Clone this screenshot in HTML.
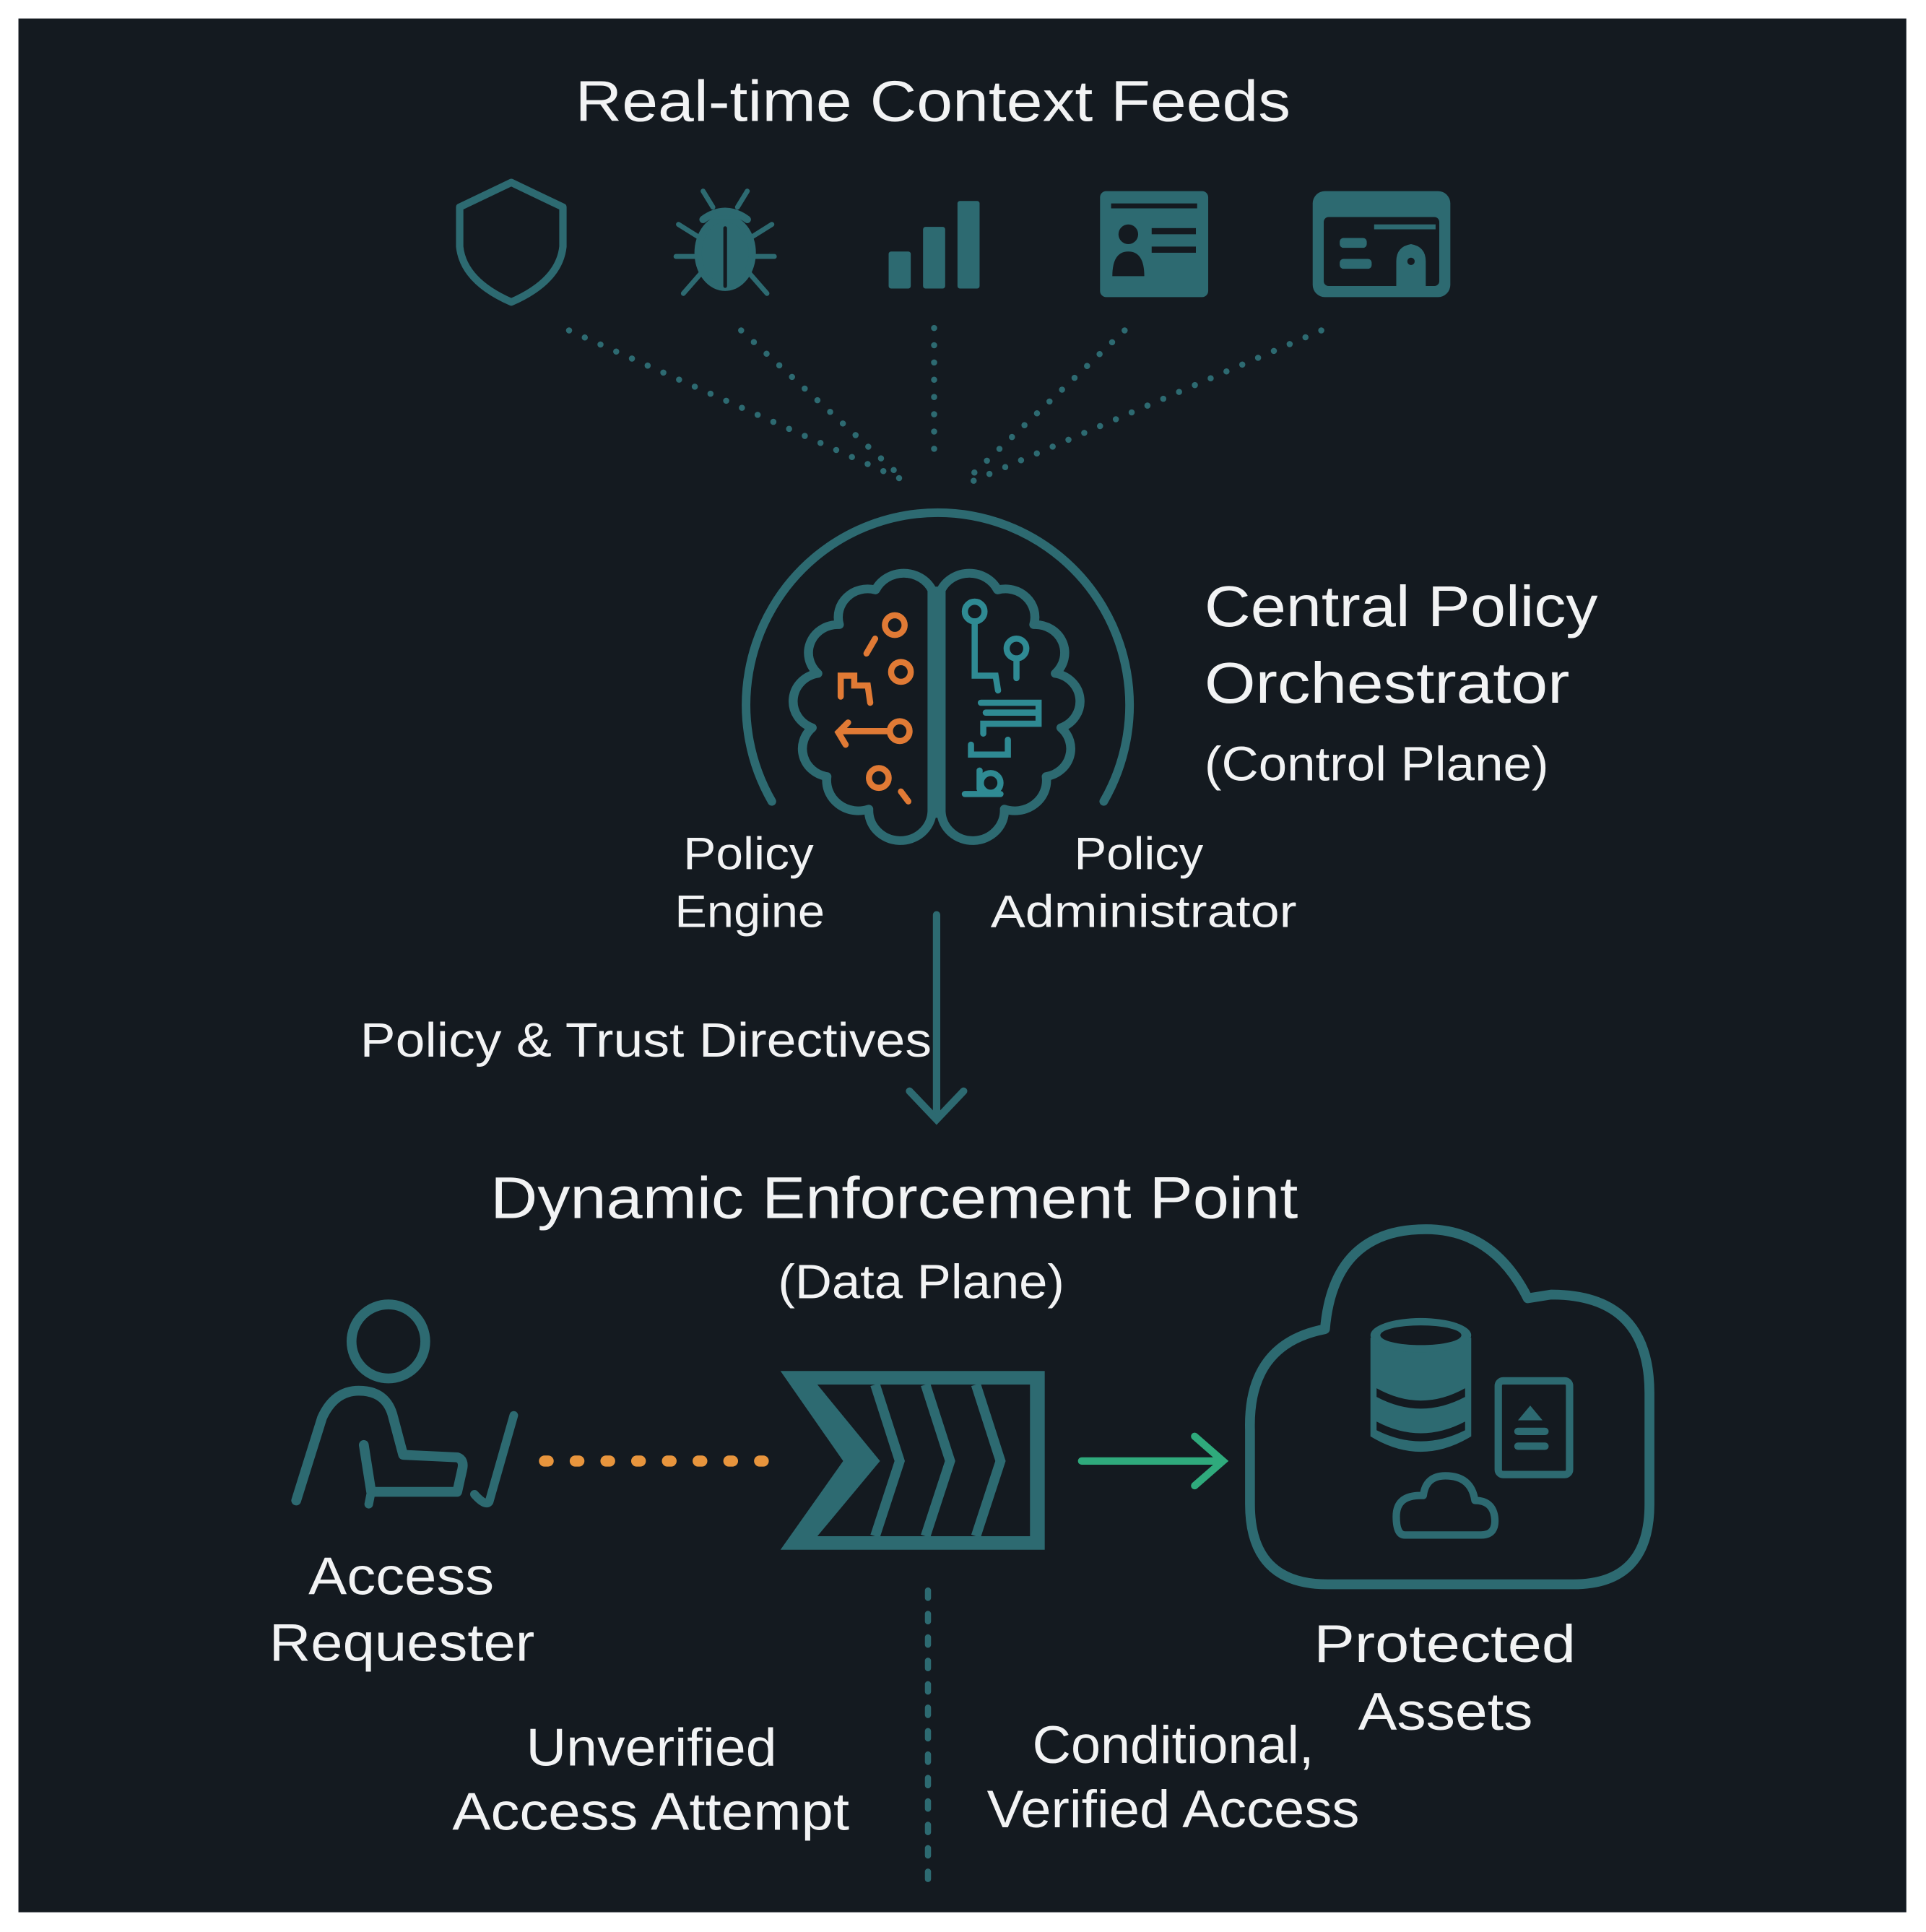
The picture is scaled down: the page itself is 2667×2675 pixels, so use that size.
<!DOCTYPE html>
<html><head><meta charset="utf-8"><style>
html,body{margin:0;padding:0;background:#fff;}
svg{display:block;}
text{font-family:"Liberation Sans",sans-serif;fill:#f2f3f4;}
</style></head><body>
<svg width="2667" height="2675" viewBox="0 0 1567 1567" preserveAspectRatio="none" xmlns="http://www.w3.org/2000/svg">
<rect x="0" y="0" width="1567" height="1567" fill="#ffffff"/>
<rect x="15" y="15" width="1536" height="1536" fill="#141a20"/>

<text x="468" y="98" font-size="47" textLength="582" lengthAdjust="spacingAndGlyphs">Real-time Context Feeds</text>

<g fill="none" stroke="#2d6a71" stroke-width="6" stroke-linecap="round" stroke-linejoin="round">
  <path d="M416,148 L458,168 L458,200 Q455,228 416,245 Q377,228 374,200 L374,168 Z"/>
  <ellipse cx="590" cy="205" rx="22" ry="28" fill="#2d6a71"/>
  <path d="M572,178 Q590,165 608,178" fill="#2d6a71"/>
  <path d="M580,168 L572,155 M600,168 L608,155 M568,192 L552,182 M612,192 L628,182 M566,208 L550,208 M614,208 L630,208 M570,222 L556,238 M610,222 L624,238" stroke-width="4"/>
  <line x1="590" y1="185" x2="590" y2="232" stroke="#141a20" stroke-width="3"/>
  <path d="M628,650 A156,156 0 1 1 898,650" stroke-width="7"/>
  <circle cx="316" cy="1088" r="30" stroke-width="8"/>
  <path d="M241,1217 L262,1150 Q272,1128 292,1128 Q315,1128 320,1150 L328,1180 L372,1182 Q378,1184 376,1192 L372,1210 L302,1210 L296,1172" stroke-width="8"/>
  <path d="M302,1210 L300,1220 M418,1148 L398,1218 Q395,1222 386,1212" stroke-width="7"/>
  <path d="M1080,1285 L1280,1285 Q1342,1285 1342,1220 L1342,1130 Q1342,1050 1262,1050 L1243,1053 Q1215,997 1160,997 Q1085,997 1078,1078 Q1015,1090 1017,1160 L1017,1220 Q1017,1285 1080,1285 Z" stroke-width="8"/>
  <rect x="1219" y="1120" width="58" height="76" rx="4" stroke-width="6"/>
  <path d="M1143,1245 L1205,1245 Q1218,1245 1216,1230 Q1214,1217 1200,1217 Q1197,1197 1176,1197 Q1160,1197 1158,1213 Q1136,1212 1136,1230 Q1136,1245 1143,1245 Z" stroke-width="6"/>
</g>
<g fill="#2d6a71">
  <rect x="723" y="204" width="18" height="30" rx="2"/>
  <rect x="751" y="184" width="18" height="50" rx="2"/>
  <rect x="779" y="163" width="18" height="71" rx="2"/>
  <rect x="895" y="155" width="88" height="86" rx="5"/>
  <rect x="1068" y="155" width="112" height="86" rx="10"/>
</g>
<g fill="#141a20">
  <rect x="904" y="165" width="70" height="4"/>
  <rect x="937" y="185" width="36" height="5"/>
  <rect x="937" y="200" width="36" height="5"/>
  <circle cx="918" cy="190" r="8"/>
  <path d="M905,224 Q905,204 918,204 Q931,204 931,224 Z"/>
  <rect x="1077" y="176" width="94" height="56" rx="4"/>
</g>
<g fill="#2d6a71">
  <rect x="1090" y="193" width="22" height="8" rx="3"/>
  <rect x="1090" y="210" width="26" height="8" rx="3"/>
  <path d="M1136,232 L1136,212 Q1136,200 1148,198 Q1160,200 1160,212 L1160,232 Z"/>
  <rect x="1118" y="182" width="50" height="4"/>
</g>
<circle cx="1148" cy="212" r="3" fill="#141a20"/>

<g fill="none" stroke="#2d6a71" stroke-width="5" stroke-linecap="round" stroke-dasharray="0 14">
  <line x1="463" y1="268" x2="732" y2="388"/>
  <line x1="603" y1="268" x2="728" y2="382"/>
  <line x1="760" y1="266" x2="760" y2="372"/>
  <line x1="915" y1="268" x2="792" y2="384"/>
  <line x1="1075" y1="268" x2="792" y2="390"/>
</g>

<g transform="translate(762,570) scale(0.92,0.88) translate(-762,-572)">
<g fill="none" stroke="#2d6a71" stroke-width="8" stroke-linejoin="round">
  <path d="M758,468 A28,28 0 0 0 708,468 A26,26 0 0 0 676,500 A26,26 0 0 0 657,545 A26,26 0 0 0 652,595 A26,26 0 0 0 665,640 A28,28 0 0 0 702,670 A28,28 0 0 0 758,672 Z"/>
  <path d="M766,468 A28,28 0 0 1 816,468 A26,26 0 0 1 848,500 A26,26 0 0 1 867,545 A26,26 0 0 1 872,595 A26,26 0 0 1 859,640 A28,28 0 0 1 822,670 A28,28 0 0 1 766,672 Z"/>
</g>
<line x1="762" y1="465" x2="762" y2="678" stroke="#2d6a71" stroke-width="8"/>
</g>
<g fill="none" stroke="#e07a35" stroke-width="5" stroke-linecap="round">
  <circle cx="728" cy="507" r="8"/>
  <circle cx="733" cy="545" r="8"/>
  <circle cx="732" cy="593" r="8"/>
  <circle cx="715" cy="631" r="8"/>
  <path d="M712,518 L705,530"/>
  <path d="M724,593 L686,593 M690,586 L682,594 L688,604"/>
  <path d="M684,565 L684,548 L695,548 L695,556 L706,556 L708,570"/>
  <path d="M733,642 L739,650"/>
</g>
<g fill="none" stroke="#2f8a93" stroke-width="5" stroke-linecap="round">
  <circle cx="793" cy="496" r="8"/>
  <circle cx="827" cy="526" r="8"/>
  <path d="M793,504 L793,548 L810,548 L812,560 M827,534 L827,550"/>
  <path d="M798,570 L845,570 L845,587 L800,587 L800,595 M802,578 L843,578"/>
  <path d="M820,600 L820,612 L790,612 L790,604"/>
  <circle cx="806" cy="635" r="8"/>
  <path d="M785,644 L814,644 M797,625 L797,640"/>
</g>

<text x="980" y="508" font-size="47" textLength="320" lengthAdjust="spacingAndGlyphs">Central Policy</text>
<text x="980" y="570" font-size="47" textLength="297" lengthAdjust="spacingAndGlyphs">Orchestrator</text>
<text x="980" y="633" font-size="39" textLength="280" lengthAdjust="spacingAndGlyphs">(Control Plane)</text>
<text x="556" y="705" font-size="37" textLength="106" lengthAdjust="spacingAndGlyphs">Policy</text>
<text x="549" y="752" font-size="37" textLength="122" lengthAdjust="spacingAndGlyphs">Engine</text>
<text x="874" y="705" font-size="37" textLength="105" lengthAdjust="spacingAndGlyphs">Policy</text>
<text x="806" y="752" font-size="37" textLength="249" lengthAdjust="spacingAndGlyphs">Administrator</text>

<g fill="none" stroke="#2d6a71" stroke-width="6" stroke-linecap="round">
  <line x1="762" y1="742" x2="762" y2="906"/>
  <path d="M740,885 L762,908 L784,885"/>
</g>
<text x="293" y="857" font-size="39" textLength="465" lengthAdjust="spacingAndGlyphs">Policy &amp; Trust Directives</text>

<text x="399" y="988" font-size="48" textLength="657" lengthAdjust="spacingAndGlyphs">Dynamic Enforcement Point</text>
<text x="633" y="1053" font-size="39" textLength="233" lengthAdjust="spacingAndGlyphs">(Data Plane)</text>

<line x1="443" y1="1185" x2="622" y2="1185" stroke="#e8953d" stroke-width="9" stroke-linecap="round" stroke-dasharray="3 22"/>

<path d="M635,1112 L850,1112 L850,1257 L635,1257 L686,1185 Z" fill="#2d6a71"/>
<path d="M665,1123 L838,1123 L838,1246 L665,1246 L716,1185 Z" fill="#141a20"/>
<g fill="none" stroke="#2d6a71" stroke-width="8">
  <path d="M712,1123 L732,1185 L712,1246"/>
  <path d="M753,1123 L773,1185 L753,1246"/>
  <path d="M794,1123 L814,1185 L794,1246"/>
</g>

<g fill="none" stroke="#2faa7c" stroke-width="6" stroke-linecap="round">
  <line x1="880" y1="1185" x2="993" y2="1185"/>
  <path d="M972,1165 L995,1185 L972,1205"/>
</g>

<g>
  <path d="M1115,1085 L1115,1165 Q1156,1190 1197,1165 L1197,1085 Z" fill="#2d6a71"/>
  <ellipse cx="1156" cy="1083" rx="41" ry="14" fill="#2d6a71"/>
  <ellipse cx="1156" cy="1083" rx="33" ry="8" fill="#141a20"/>
  <path d="M1120,1126 Q1156,1146 1192,1126 L1192,1133 Q1156,1152 1120,1133 Z" fill="#141a20"/>
  <path d="M1120,1153 Q1156,1172 1192,1153 L1192,1160 Q1156,1178 1120,1160 Z" fill="#141a20"/>
</g>
<g fill="#2d6a71">
  <path d="M1235,1152 L1245,1140 L1255,1152 Z"/>
  <rect x="1232" y="1158" width="28" height="6" rx="3"/>
  <rect x="1232" y="1170" width="28" height="6" rx="3"/>
</g>

<line x1="755" y1="1290" x2="755" y2="1525" stroke="#2d6a71" stroke-width="5" stroke-linecap="round" stroke-dasharray="6 13"/>

<text x="251" y="1293" font-size="43" textLength="151" lengthAdjust="spacingAndGlyphs">Access</text>
<text x="219" y="1347" font-size="43" textLength="216" lengthAdjust="spacingAndGlyphs">Requester</text>
<text x="1069" y="1348" font-size="43" textLength="213" lengthAdjust="spacingAndGlyphs">Protected</text>
<text x="1105" y="1403" font-size="43" textLength="142" lengthAdjust="spacingAndGlyphs">Assets</text>
<text x="428" y="1432" font-size="43" textLength="204" lengthAdjust="spacingAndGlyphs">Unverified</text>
<text x="368" y="1484" font-size="43" textLength="323" lengthAdjust="spacingAndGlyphs">Access Attempt</text>
<text x="840" y="1430" font-size="43" textLength="229" lengthAdjust="spacingAndGlyphs">Conditional,</text>
<text x="803" y="1482" font-size="43" textLength="303" lengthAdjust="spacingAndGlyphs">Verified Access</text>
</svg>
</body></html>
